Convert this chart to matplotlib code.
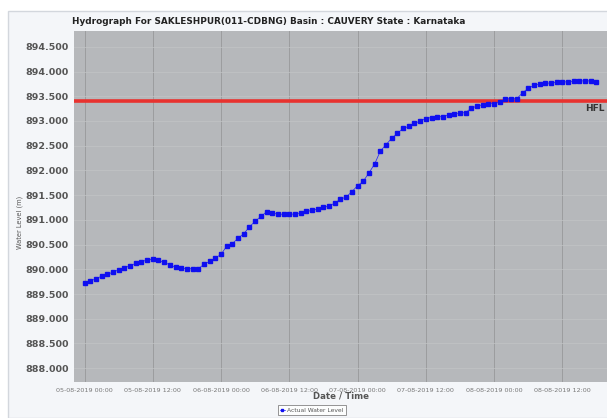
import matplotlib
matplotlib.use("Agg")
import matplotlib.pyplot as plt
import matplotlib.dates as mdates
from matplotlib.patches import Rectangle
import datetime as dt

# ---- data ----
start_time = dt.datetime(2019, 8, 5, 0, 0)
water_level = [
    889.73, 889.76, 889.81, 889.86, 889.90, 889.94, 889.99, 890.03, 890.07, 890.12,
    890.15, 890.19, 890.20, 890.18, 890.14, 890.09, 890.04, 890.02, 890.01, 890.01,
    890.01, 890.10, 890.16, 890.23, 890.30, 890.47, 890.52, 890.63, 890.72, 890.86,
    890.97, 891.07, 891.16, 891.13, 891.12, 891.11, 891.11, 891.12, 891.14, 891.17,
    891.19, 891.22, 891.25, 891.28, 891.34, 891.42, 891.46, 891.57, 891.69, 891.78,
    891.95, 892.13, 892.39, 892.52, 892.65, 892.75, 892.85, 892.89, 892.95, 893.00,
    893.05, 893.07, 893.08, 893.09, 893.12, 893.15, 893.16, 893.17, 893.26, 893.30,
    893.33, 893.35, 893.35, 893.38, 893.45, 893.45, 893.45, 893.57, 893.66, 893.72,
    893.75, 893.76, 893.77, 893.78, 893.79, 893.79, 893.80, 893.81, 893.81, 893.81,
    893.79,
]
times = [start_time + dt.timedelta(hours=i) for i in range(len(water_level))]
hfl_level = 893.40
title = "Hydrograph For SAKLESHPUR(011-CDBNG) Basin : CAUVERY State : Karnataka"
y_ticks = [888.0, 888.5, 889.0, 889.5, 890.0, 890.5, 891.0, 891.5, 892.0, 892.5,
           893.0, 893.5, 894.0, 894.5]
x_ticks = [start_time + dt.timedelta(hours=12 * k) for k in range(8)]

# ---- figure ----
fig = plt.figure(figsize=(6.07, 4.18), dpi=100, facecolor="white")
panel = Rectangle((8 / 607, 0), 1.0, 1 - 11 / 418, transform=fig.transFigure,
                  facecolor="#f4f6f9", edgecolor="#d3d7dd", linewidth=1.0, zorder=-10)
fig.patches.append(panel)

ax = fig.add_axes([74 / 607, 1 - 382 / 418, 1 - 74 / 607, (382 - 31) / 418])
ax.set_facecolor("#b6b8bb")

ax.plot(times, water_level, color="#1a1aff", linewidth=0.5, marker="s",
        markersize=2.3, markerfacecolor="#0f0ff0", markeredgecolor="#0f0ff0",
        label="Actual Water Level", zorder=3)
ax.axhline(hfl_level, color="#e8322f", linewidth=2.6, zorder=2)

x0 = start_time - dt.timedelta(hours=1.85)
x1 = start_time + dt.timedelta(hours=91.85)
ax.set_xlim(x0, x1)
ax.set_ylim(887.72, 894.82)

ax.text(0.995, hfl_level - 0.06, "HFL", transform=ax.get_yaxis_transform(),
        ha="right", va="top", fontsize=6.5, fontweight="bold", color="#333333")

ax.set_yticks(y_ticks)
ax.set_yticklabels([f"{v:.3f}" for v in y_ticks])
ax.set_xticks(x_ticks)
ax.xaxis.set_major_formatter(mdates.DateFormatter("%d-%m-%Y %H:%M"))
ax.tick_params(axis="y", length=0, pad=4, labelsize=6.8, labelcolor="#555555")
ax.tick_params(axis="x", length=0, pad=4, labelsize=4.6, labelcolor="#777777")
for lbl in ax.get_yticklabels():
    lbl.set_fontweight("bold")

ax.grid(axis="x", color="#9c9d9f", linewidth=0.7)
ax.grid(axis="y", color="#c2c4c6", linewidth=0.5)
ax.set_axisbelow(True)
for s in ax.spines.values():
    s.set_visible(False)

fig.text(268.5 / 607, 1 - 21 / 418, title, ha="center", va="center",
         fontsize=6.4, fontweight="bold", color="#222222")
fig.text(341 / 607, 1 - 396 / 418, "Date / Time", ha="center", va="center",
         fontsize=6.2, fontweight="bold", color="#555555")
fig.text(20 / 607, 1 - 222 / 418, "Water Level (m)", ha="center", va="center",
         rotation=90, fontsize=4.8, color="#555555")

leg = fig.legend(loc="center", bbox_to_anchor=(311.7 / 607, 1 - 410.3 / 418),
                 fontsize=4.3, frameon=True, fancybox=False, handlelength=0.8,
                 borderpad=0.4, handletextpad=0.4, markerscale=0.9)
leg.get_frame().set_edgecolor("#666666")
leg.get_frame().set_linewidth(0.6)
leg.get_frame().set_facecolor("white")
for t in leg.get_texts():
    t.set_color("#555555")

fig.savefig("out.png", dpi=100)
